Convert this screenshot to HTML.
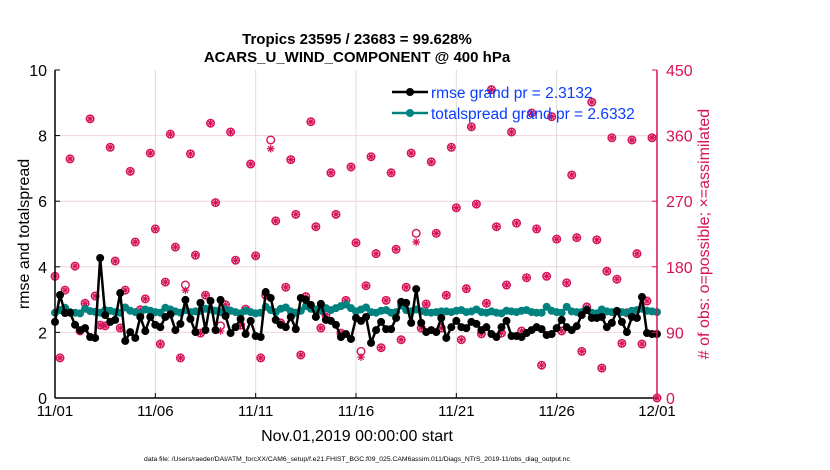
<!DOCTYPE html>
<html><head><meta charset="utf-8"><style>
html,body{margin:0;padding:0;background:#fff;}
svg{display:block;font-family:"Liberation Sans",Arial,sans-serif;}
</style></head><body>
<svg id="chart" width="830" height="470" viewBox="0 0 830 470" xmlns="http://www.w3.org/2000/svg">
<text x="357" y="44" text-anchor="middle" font-size="15" font-weight="bold">Tropics 23595 / 23683 = 99.628%</text>
<text x="357" y="62" text-anchor="middle" font-size="15" font-weight="bold">ACARS_U_WIND_COMPONENT @ 400 hPa</text>
<g id="grid"></g>
<g id="marks"></g>
<g id="axes"></g>
<text transform="translate(29,234) rotate(-90)" text-anchor="middle" font-size="16">rmse and totalspread</text>
<text transform="translate(709,234) rotate(-90)" text-anchor="middle" font-size="16" fill="#d6135a">
# of obs: o=possible; ×=assimilated</text>
<text x="357" y="441" text-anchor="middle" font-size="16">Nov.01,2019 00:00:00 start</text>
<text x="357" y="461" text-anchor="middle" font-size="6.8">data file: /Users/raeder/DAI/ATM_forcXX/CAM6_setup/f.e21.FHIST_BGC.f09_025.CAM6assim.011/Diags_NTrS_2019-11/obs_diag_output.nc</text>
<g>
<line x1="392" y1="92" x2="428" y2="92" stroke="#000" stroke-width="2.5"/>
<circle cx="410" cy="92" r="4" fill="#000"/>
<text x="431" y="98" font-size="15.5" fill="#0a3cff">rmse grand pr = 2.3132</text>
<line x1="392" y1="113" x2="428" y2="113" stroke="#00827f" stroke-width="2.5"/>
<circle cx="410" cy="113" r="4" fill="#00827f"/>
<text x="431" y="119" font-size="15.5" fill="#0a3cff">totalspread grand pr = 2.6332</text>
</g>
</svg>
<script>
const rmse = [2.32,3.14,2.59,2.6,2.23,2.07,2.13,1.86,1.83,4.27,
2.53,2.32,2.38,3.2,1.74,2.01,1.83,2.47,2.04,2.47,
2.23,2.16,2.47,2.55,2.07,2.26,2.99,2.41,2.01,2.9,
2.07,2.96,2.07,2.99,2.5,1.98,2.16,2.41,1.95,2.35,
1.89,1.86,3.23,3.05,2.38,2.23,2.16,2.47,2.1,3.05,
2.99,2.84,2.47,2.87,2.38,2.35,2.23,1.86,1.95,1.8,
2.44,2.35,2.47,1.68,2.07,2.32,2.1,2.1,2.44,2.93,
2.9,2.29,3.32,2.29,2.01,2.07,2.01,2.44,1.83,2.16,
2.35,2.16,2.13,2.32,2.26,2.07,2.16,1.95,1.86,2.16,
2.35,1.89,1.89,1.86,1.98,2.07,2.16,2.1,1.92,1.95,
2.13,2.38,2.16,2.07,2.19,2.53,2.68,2.44,2.44,2.47,
2.16,2.29,2.65,2.32,2.01,2.47,2.44,3.08,1.98,1.95,
1.95];
const spread = [2.6,2.68,2.75,2.62,2.6,2.58,2.72,2.65,2.63,2.6,
2.68,2.66,2.62,2.6,2.76,2.66,2.62,2.58,2.7,2.66,
2.62,2.6,2.75,2.7,2.64,2.6,2.68,2.62,2.64,2.66,
2.72,2.7,2.66,2.62,2.7,2.66,2.62,2.58,2.66,2.62,
2.58,2.6,2.78,2.68,2.62,2.72,2.76,2.64,2.6,2.66,
2.8,2.72,2.7,2.66,2.74,2.68,2.74,2.8,2.85,2.74,
2.64,2.7,2.76,2.62,2.6,2.66,2.68,2.6,2.62,2.82,
2.68,2.64,2.7,2.65,2.62,2.6,2.62,2.64,2.64,2.62,
2.66,2.68,2.62,2.64,2.7,2.62,2.6,2.64,2.6,2.58,
2.66,2.64,2.62,2.66,2.68,2.62,2.6,2.6,2.78,2.66,
2.62,2.6,2.78,2.64,2.62,2.62,2.7,2.6,2.58,2.7,
2.64,2.62,2.66,2.62,2.6,2.66,2.68,2.72,2.66,2.64,
2.62];
const obsPossible = [167,55,148,328,181,92,130,383,140,100,
99,344,188,96,148,311,214,121,136,336,
232,74,159,362,207,55,155,335,196,89,
141,377,268,99,128,365,189,100,122,321,
195,55,141,354,243,103,152,327,252,59,
139,379,235,96,114,309,252,89,134,317,
213,64,154,331,198,69,134,309,204,80,
152,336,226,96,129,324,226,96,141,344,
261,80,150,372,266,88,130,423,235,89,
155,365,240,92,165,391,232,45,167,386,
218,92,158,306,220,64,125,406,217,41,
174,357,163,75,117,354,198,74,133,357,
0];
const obsAssim = [167,55,148,328,181,92,130,383,140,100,
99,344,188,96,148,311,214,121,136,336,
232,74,159,362,207,55,148,335,196,89,
141,377,268,92,128,365,189,100,122,321,
195,55,141,342,243,103,152,327,252,59,
139,379,235,96,114,309,252,89,134,317,
213,56,154,331,198,69,134,309,204,80,
152,336,214,96,129,324,226,96,141,344,
261,80,150,372,266,88,130,423,235,89,
155,365,240,92,165,391,232,45,167,386,
218,92,158,306,220,64,125,406,217,41,
174,357,163,75,117,354,198,74,133,357,
0];
const xTickLabels = ["11/01","11/06","11/11","11/16","11/21","11/26","12/01"];
const leftTicks = [0,2,4,6,8,10];
const rightTicks = [0,90,180,270,360,450];

const NS="http://www.w3.org/2000/svg";
const X0=55,X1=657,Y0=398,Y1=70;
const nPts=121;
function xScale(i){return X0+(X1-X0)*i/(nPts-1);}
function yL(v){return Y0-(Y0-Y1)*v/10;}
function yR(v){return Y0-(Y0-Y1)*v/450;}
function mk(tag,attrs,parent){const e=document.createElementNS(NS,tag);for(const k in attrs)e.setAttribute(k,attrs[k]);parent.appendChild(e);return e;}
const grid=document.getElementById('grid'),marks=document.getElementById('marks'),axes=document.getElementById('axes');

leftTicks.forEach(t=>{if(t>0&&t<10){const l=mk('line',{x1:X0,x2:X1,y1:yL(t),y2:yL(t),stroke:'#eed6de','stroke-width':1},grid);

}});
xTickLabels.forEach((lab,k)=>{const x=X0+(X1-X0)*k/(xTickLabels.length-1);
if(k>0&&k<xTickLabels.length-1){const g=mk('line',{x1:x,x2:x,y1:Y1,y2:Y0,stroke:'#dcdcdc','stroke-width':1},grid);

}
const tk=mk('line',{x1:x,x2:x,y1:Y0,y2:Y0-5,stroke:'#000'},axes);


const t=mk('text',{x:x,y:416,'text-anchor':'middle','font-size':15},axes);t.textContent=lab;

});

function star(cx,cy,r,parent){const d=[];for(let a=0;a<4;a++){const ang=a*Math.PI/4;d.push(`M${cx-r*Math.cos(ang)},${cy-r*Math.sin(ang)}L${cx+r*Math.cos(ang)},${cy+r*Math.sin(ang)}`);}
return mk('path',{d:d.join(''),stroke:'#d6135a','stroke-width':1.2,fill:'none'},parent);}
obsPossible.forEach((v,i)=>{const c=mk('circle',{cx:xScale(i),cy:yR(v),r:3.8,fill:'none',stroke:'#d6135a','stroke-width':1.4},marks);

});
obsAssim.forEach((v,i)=>{const s=star(xScale(i),yR(v),3.8,marks);

});

function series(vals,color,name){
const p=mk('polyline',{points:vals.map((v,i)=>xScale(i)+','+yL(v)).join(' '),fill:'none',stroke:color,'stroke-width':2.5,'stroke-linejoin':'round'},marks);


vals.forEach((v,i)=>{const c=mk('circle',{cx:xScale(i),cy:yL(v),r:4,fill:color},marks);

});}
series(spread,'#00827f','totalspread');
series(rmse,'#000','rmse');

const la=mk('line',{x1:X0,x2:X0,y1:Y1,y2:Y0,stroke:'#000','stroke-width':1.5},axes);


const ba=mk('line',{x1:X0,x2:X1,y1:Y0,y2:Y0,stroke:'#000','stroke-width':1.5},axes);


const ra=mk('line',{x1:X1,x2:X1,y1:Y1,y2:Y0,stroke:'#d6135a','stroke-width':1.5},axes);


leftTicks.forEach(t=>{const tk=mk('line',{x1:X0,x2:X0+5,y1:yL(t),y2:yL(t),stroke:'#000'},axes);


const tx=mk('text',{x:X0-8,y:yL(t)+6,'text-anchor':'end','font-size':16},axes);tx.textContent=t;

});
rightTicks.forEach(t=>{const tk=mk('line',{x1:X1-5,x2:X1,y1:yR(t),y2:yR(t),stroke:'#d6135a'},axes);


const tx=mk('text',{x:X1+9,y:yR(t)+6,'text-anchor':'start','font-size':16,fill:'#d6135a'},axes);tx.textContent=t;

});
</script>
</body></html>
